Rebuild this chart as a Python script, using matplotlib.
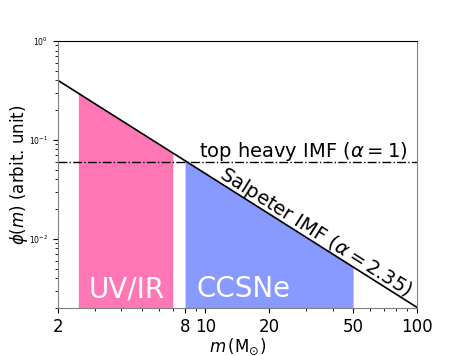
import numpy as np
import matplotlib
matplotlib.use('Agg')
import matplotlib.pyplot as plt
import matplotlib.transforms as mtransforms
from matplotlib.ticker import FixedLocator, NullFormatter

# Salpeter-type slope in phi(m) per log m: m^-(alpha-1)
m_range = [2, 100]
salpeter_norm = 0.4      # phi at m = 2
salpeter_slope = -1.35
topheavy_level = 0.06

uvir_range = [2.5, 7]
ccsne_range = [8, 50]

xticks = [2, 8, 10, 20, 50, 100]
xtick_labels = ['2', '8', '10', '20', '50', '100']


def salpeter(m):
    return salpeter_norm * (np.asarray(m) / 2.0) ** salpeter_slope


fig, ax = plt.subplots(figsize=(4.63, 3.56), dpi=100)
fig.subplots_adjust(left=0.125, right=0.9, top=0.885, bottom=0.135)

ax.set_xscale('log')
ax.set_yscale('log')
ax.set_xlim(m_range)
ax.set_ylim(2e-3, 1)

# shaded mass ranges under the IMF
m1 = np.logspace(np.log10(uvir_range[0]), np.log10(uvir_range[1]), 50)
ax.fill_between(m1, 1e-4, salpeter(m1), color='#ff77b4', lw=0)
m2 = np.logspace(np.log10(ccsne_range[0]), np.log10(ccsne_range[1]), 50)
ax.fill_between(m2, 1e-4, salpeter(m2), color='#8899ff', lw=0)

m = np.logspace(np.log10(m_range[0]), np.log10(m_range[1]), 100)
ax.plot(m, salpeter(m), color='black', lw=1.2)
ax.axhline(topheavy_level, color='black', lw=1.0, ls='-.')

ax.text(29.1, 0.067, r'top heavy IMF ($\alpha=1$)', fontsize=14,
        ha='center', va='baseline')

# label sitting on the Salpeter line
xs = 31.5
off = mtransforms.offset_copy(ax.transData, fig=fig, x=1.6, y=2.6, units='points')
ax.text(xs, salpeter(xs), r'Salpeter IMF ($\alpha=2.35$)', fontsize=14,
        ha='center', va='baseline', rotation=-32.4, rotation_mode='anchor',
        transform=off)

ax.text(4.25, 0.0031, 'UV/IR', fontsize=20, color='white',
        ha='center', va='center')
ax.text(15.1, 0.0031, 'CCSNe', fontsize=20, color='white',
        ha='center', va='center')

ax.xaxis.set_major_locator(FixedLocator(xticks))
ax.set_xticklabels(xtick_labels, fontsize=12)
ax.xaxis.set_minor_formatter(NullFormatter())
ax.tick_params(axis='y', which='major', labelsize=5.5)

ax.set_xlabel(r'$m\,(\mathrm{M}_{\odot})$', fontsize=12, labelpad=1)
ax.set_ylabel(r'$\phi(m)$ (arbit. unit)', fontsize=12)
ax.yaxis.set_label_coords(-0.078, 0.5)

for s in ['left', 'bottom', 'right']:
    ax.spines[s].set_color('grey')
ax.spines['top'].set_color('black')

fig.savefig('out.png', dpi=100)
